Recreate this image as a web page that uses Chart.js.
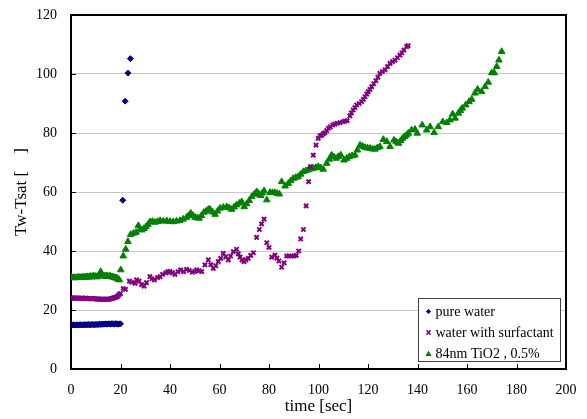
<!DOCTYPE html>
<html>
<head>
<meta charset="utf-8">
<script src="https://cdn.jsdelivr.net/npm/chart.js@4"></script>
<style>
  html, body { margin: 0; padding: 0; background: #fff; }
  #wrap { width: 587px; height: 419px; }
</style>
</head>
<body>
<div id="wrap"><canvas id="c" width="587" height="419"></canvas></div>
<script>
// ---- data ----
const xTicks = [0, 20, 40, 60, 80, 100, 120, 140, 160, 180, 200];
const yTicks = [0, 20, 40, 60, 80, 100, 120];
const seriesNames = ["pure water", "water with surfactant", "84nm TiO2 , 0.5%"];

const pureX = [0,0.5,1,1.5,2,2.5,3,3.5,4,4.5,5,5.5,6,6.5,7,7.5,8,8.5,9,9.5,10,10.5,11,11.5,12,12.5,13,13.5,14,14.5,15,15.5,16,16.5,17,17.5,18,18.5,19,19.5,20,20.9,21.9,23.0,24.0];
const pureY = [14.9,14.9,15.0,14.9,14.9,15.0,14.9,15.0,15.0,14.9,15.0,15.0,15.0,15.0,15.1,15.0,15.0,15.1,15.1,15.0,15.1,15.1,15.1,15.2,15.1,15.2,15.2,15.2,15.3,15.2,15.3,15.3,15.2,15.4,15.3,15.2,15.4,15.3,15.2,15.3,15.3,57.2,90.8,100.3,105.2];

const surfX = [0,0.5,1,1.5,2,2.5,3,3.5,4,4.5,5,5.5,6,6.5,7,7.5,8,8.5,9,9.5,10,10.5,11,11.5,12,12.5,13,13.5,14,14.5,15,15.5,16,16.5,17,17.5,18,18.5,19,19.5,20,
  21.1,22,23.6,24.5,25.9,26.5,27.5,28.5,29.5,30.5,31.9,32.7,33.7,35,36,37,38.4,39.2,40,41,42,43.2,44.3,45.5,46.7,47.8,49,50,50.8,51.8,52.8,54.1,55.5,56.5,57.5,58.5,59.5,60.5,61.5,62.5,63.6,64.5,65.6,66.9,67.6,68.3,69.1,69.9,70.7,71.6,72.6,73.7,
  75,76.1,77,78,79.1,80,81.1,82.4,83.2,84,85.1,86.1,87.1,88.1,89.1,90.1,91,92,92.8,93.9,95,96,96.8,97.9,99,99.9,100.6,101.3,102,102.6,103.3,104,104.8,105.7,106.6,107.6,108.7,109.8,110.7,111.6,112.7,113.3,114,114.7,115.4,116.4,117.4,118.1,118.8,119.5,120.1,120.8,121.5,122.3,123.2,124,124.8,125.8,126.9,127.9,128.9,129.9,130.9,131.9,132.9,133.7,134.5,135.6,136.2];
const surfY = [24.0,24.0,24.1,24.0,24.0,24.0,24.0,23.9,24.0,24.0,23.9,23.9,24.0,23.9,23.9,23.8,23.9,23.8,23.8,23.8,23.8,23.7,23.7,23.7,23.6,23.7,23.6,23.6,23.6,23.7,23.6,23.7,23.8,23.9,24.0,24.2,24.3,24.5,24.8,25.3,25.6,
  27.3,27.0,29.8,29.4,29.0,30.2,29.8,28.6,28.1,29.3,31.3,30.6,30.2,31.0,31.3,32.1,32.6,33.0,33.0,32.6,32.1,33.0,33.6,33.0,33.8,33.4,32.8,33.1,33.6,33.3,33.0,35.3,37.0,35.4,34.1,35.0,36.4,37.5,39.2,38.0,37.0,38.3,39.8,40.6,39.0,37.9,37.0,36.4,37.0,37.5,38.5,39.4,
  44.6,47.3,49.2,50.8,42.8,41.2,37.9,38.6,37.6,36.6,34.5,36.0,38.3,38.3,38.3,38.3,38.5,40.0,44.1,47.3,55.3,63.5,68.6,72.5,75.9,78.2,79.0,79.3,79.8,80.1,80.8,81.6,82.1,82.7,83.0,83.3,83.5,83.8,84.0,84.2,85.8,86.8,87.8,88.6,89.5,90.0,90.6,91.4,92.3,93.2,94.0,94.8,95.7,96.7,97.7,98.9,100.2,100.8,101.4,102.5,103.6,104.2,104.7,105.5,106.4,107.2,108.1,109.3,109.6];

const tioX = [0,0.5,1,1.5,2,2.5,3,3.5,4,4.5,5,5.5,6,6.5,7,7.5,8,8.5,9,9.5,10,10.5,11,11.5,12,12.5,13,13.5,14,14.5,15,15.5,16,16.5,17,17.5,18,18.5,19,19.5,
  20.1,21.1,22.1,23,24.1,25.2,26.3,27.2,28,28.6,29.5,30.3,31.1,31.9,32.9,33.9,35,36,37.3,38.7,40,41.3,42.6,44,45.3,46.7,47.5,48.4,49.3,50.1,51,51.8,52.7,53.7,54.6,55.5,56.2,57.2,58.2,59.2,60.2,61.5,62.9,63.9,64.9,65.9,66.9,68,69,70,71,72,73,74,75,75.8,76.6,77.3,78,79.1,80.4,81.4,82.4,83.3,84.2,
  85.1,86.5,87.8,88.8,89.8,90.8,91.8,92.8,93.9,94.9,95.9,96.9,97.9,98.9,99.9,100.9,101.9,103.3,104.3,105.3,106.2,107.1,108,109,110.3,111.4,112.5,113.6,114.7,115.7,116.8,117.8,118.8,119.8,120.8,121.8,122.8,123.8,124.8,126.2,127.6,128.9,130.5,131.4,132.3,133.2,134,134.8,135.6,136.3,137.6,139,139.9,141.9,143.7,145.1,146.7,148.4,150.2,151.8,153.1,154.2,155.2,156.5,157.3,158.1,159.5,160.8,161.9,163.2,164.3,165.9,167.3,168.6,170,171,172,172.9,174];
const tioY = [31.1,31.0,30.9,31.0,30.9,31.0,31.1,31.0,31.0,31.1,31.2,31.0,31.2,31.3,31.1,31.3,31.4,31.2,31.6,31.3,31.4,31.2,31.5,32.0,33.0,32.0,31.6,31.5,31.4,31.6,31.3,31.5,31.4,31.2,31.2,31.0,30.8,30.9,30.4,30.2,
  33.6,38.3,40.6,43.2,45.6,46.0,46.3,48.6,47.5,47.1,47.6,48.2,49.0,49.9,50.0,49.7,50.0,50.3,50.1,50.2,50.0,49.9,50.1,50.3,50.8,51.4,52.0,52.8,52.0,51.4,51.2,51.1,52.0,53.1,53.5,54.1,54.1,53.2,52.4,53.5,54.5,54.8,55.0,54.6,54.1,54.9,55.6,56.2,56.7,55.0,56.0,57.1,58.4,59.2,60.1,59.5,58.8,59.6,60.4,57.3,59.8,59.8,59.8,59.5,59.3,
  63.5,62.0,62.9,63.8,64.6,64.9,65.2,66.0,66.9,67.2,67.5,67.8,68.0,68.3,68.6,68.2,67.7,69.7,71.1,72.5,71.9,71.4,72.0,72.5,70.8,71.4,72.0,72.3,72.5,74.2,75.9,75.5,75.1,74.9,74.8,74.6,74.5,75.0,75.4,77.8,77.1,75.4,77.6,77.0,76.5,77.4,78.2,78.8,79.3,79.9,81.0,81.2,79.9,82.7,81.0,82.1,80.1,82.1,83.8,83.5,84.4,86.4,85.0,86.7,87.6,88.4,89.5,90.6,91.4,93.5,94.8,94.0,95.7,97.2,100.4,100.4,102.5,104.7,107.6];

function pts(xs, ys) { return xs.map((x, i) => ({ x: x, y: ys[i] })); }

const SERIF = "'Liberation Serif', 'Times New Roman', serif";

const styles = [
  { pointStyle: 'rectRot', radius: 3, color: '#000080', bw: 1 },
  { pointStyle: 'crossRot', radius: 3, color: '#800080', bw: 2 },
  { pointStyle: 'triangle', radius: 3.8, color: '#008000', bw: 1 }
];

const frameAndLegend = {
  id: 'frameAndLegend',
  beforeDatasetsDraw(chart) {
    const ctx = chart.ctx, a = chart.chartArea;
    ctx.save();
    ctx.strokeStyle = '#000';
    ctx.lineWidth = 1;
    const xs = chart.scales.x, ys = chart.scales.y;
    xTicks.forEach(v => {
      const px = Math.round(xs.getPixelForValue(v)) + 0.5;
      ctx.beginPath(); ctx.moveTo(px, a.bottom); ctx.lineTo(px, a.bottom - 5); ctx.stroke();
    });
    yTicks.forEach(v => {
      const py = Math.round(ys.getPixelForValue(v)) + 0.5;
      ctx.beginPath(); ctx.moveTo(a.left, py); ctx.lineTo(a.left + 5, py); ctx.stroke();
    });
    ctx.lineWidth = 2;
    ctx.strokeStyle = '#000';
    ctx.strokeRect(Math.round(a.left), Math.round(a.top), Math.round(a.right - a.left), Math.round(a.bottom - a.top));
    ctx.restore();
  },
  afterDraw(chart) {
    const ctx = chart.ctx, a = chart.chartArea;
    const w = 142, h = 63;
    const left = Math.round(a.right - 148) + 0.5, top = Math.round(a.bottom - 71) + 0.5;
    ctx.save();
    ctx.fillStyle = '#fff';
    ctx.fillRect(left, top, w, h);
    ctx.strokeStyle = '#404040';
    ctx.lineWidth = 1;
    ctx.strokeRect(left, top, w, h);
    ctx.font = "14px " + SERIF;
    ctx.textBaseline = 'middle';
    ctx.textAlign = 'left';
    seriesNames.forEach((name, i) => {
      const cy = top + 13 + i * 21;
      const s = styles[i];
      ctx.fillStyle = s.color; ctx.strokeStyle = s.color;
      if (i === 0) {
        ctx.beginPath(); ctx.moveTo(left + 10, cy - 2.6); ctx.lineTo(left + 12.6, cy); ctx.lineTo(left + 10, cy + 2.6); ctx.lineTo(left + 7.4, cy); ctx.closePath(); ctx.fill();
      } else if (i === 1) {
        ctx.lineWidth = 1.5;
        ctx.beginPath(); ctx.moveTo(left + 8, cy - 2.2); ctx.lineTo(left + 12, cy + 2.2); ctx.moveTo(left + 12, cy - 2.2); ctx.lineTo(left + 8, cy + 2.2); ctx.stroke();
      } else {
        ctx.beginPath(); ctx.moveTo(left + 10, cy - 3); ctx.lineTo(left + 13, cy + 2.5); ctx.lineTo(left + 7, cy + 2.5); ctx.closePath(); ctx.fill();
      }
      ctx.fillStyle = '#000';
      ctx.fillText(name, left + 17, cy + 0.5);
    });
    ctx.restore();
  }
};

const datasets = [
  { label: seriesNames[0], data: pts(pureX, pureY) },
  { label: seriesNames[1], data: pts(surfX, surfY) },
  { label: seriesNames[2], data: pts(tioX, tioY) }
].map((d, i) => Object.assign(d, {
  pointStyle: styles[i].pointStyle,
  pointRadius: styles[i].radius,
  pointBackgroundColor: styles[i].color,
  pointBorderColor: styles[i].color,
  pointBorderWidth: styles[i].bw,
  showLine: false
}));

new Chart(document.getElementById('c'), {
  type: 'scatter',
  data: { datasets },
  plugins: [frameAndLegend],
  options: {
    responsive: false,
    animation: false,
    devicePixelRatio: 1,
    layout: { padding: { top: 15, right: 21, left: 0, bottom: 0 } },
    plugins: { legend: { display: false }, tooltip: { enabled: false } },
    scales: {
      x: {
        type: 'linear', min: 0, max: 200,
        afterBuildTicks: s => { s.ticks = xTicks.map(v => ({ value: v })); },
        afterFit: s => { s.height = 50; },
        grid: { display: true, drawOnChartArea: false, drawTicks: true, tickLength: 13, tickColor: 'rgba(0,0,0,0)', color: 'rgba(0,0,0,0)' },
        border: { display: false },
        ticks: { padding: 0, color: '#000', font: { family: SERIF, size: 14 }, maxRotation: 0 },
        title: { display: true, text: 'time [sec]', color: '#000', font: { family: SERIF, size: 17 }, padding: { top: 0, bottom: 2 } }
      },
      y: {
        type: 'linear', min: 0, max: 120,
        afterBuildTicks: s => { s.ticks = yTicks.map(v => ({ value: v })); },
        afterFit: s => { s.width = 71; },
        grid: { color: '#c8c8c8', lineWidth: 1, drawTicks: true, tickLength: 14, tickColor: 'rgba(0,0,0,0)' },
        border: { display: false },
        ticks: { padding: 0, color: '#000', font: { family: SERIF, size: 14 } },
        title: { display: true, text: 'Tw-Tsat [    ]', color: '#000', font: { family: SERIF, size: 17 }, padding: { top: 11, bottom: 0 } }
      }
    }
  }
});
</script>
</body>
</html>
